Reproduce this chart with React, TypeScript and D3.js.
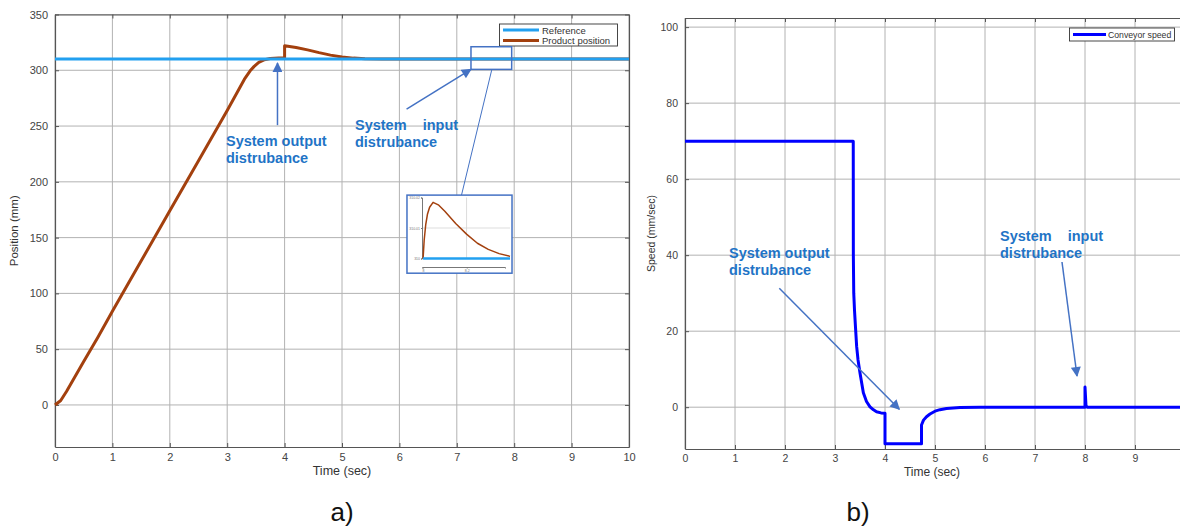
import { useEffect, useRef } from 'react';
import { select, scaleLinear, axisBottom, axisLeft, axisTop, axisRight, line } from 'd3';

// ticks
const timeTicks = [0, 1, 2, 3, 4, 5, 6, 7, 8, 9, 10];
const positionTicks = [0, 50, 100, 150, 200, 250, 300, 350];
const speedTicks = [0, 20, 40, 60, 80, 100];

// a) product position vs reference
const referenceTime = [0, 10];
const referenceValue = [310, 310];
const positionTime = [0, 0.1, 0.2, 0.3, 0.5, 0.75, 1, 1.5, 2, 2.5, 3, 3.3, 3.4, 3.47, 3.55, 3.65, 3.75, 3.9, 4.0, 4.0, 4.2, 4.4, 4.6, 4.8, 5.0, 5.2, 5.4, 5.7, 6, 10];
const positionValue = [0, 4, 12, 21, 39, 61, 84, 129, 174, 219, 264, 292, 299.5, 303.5, 307, 309.5, 310.5, 311, 311, 322, 320.5, 318.3, 315.8, 313.6, 311.9, 310.9, 310.4, 310.1, 310, 310];

// zoomed view of the input disturbance (inset)
const zoomTime = [8.0, 8.005, 8.012, 8.02, 8.03, 8.046, 8.07, 8.1, 8.15, 8.2, 8.25, 8.3, 8.35, 8.4];
const zoomValue = [310, 310.006, 310.011, 310.0145, 310.0168, 310.0184, 310.0176, 310.0155, 310.0115, 310.008, 310.005, 310.003, 310.0016, 310.0007];
const zoomTimeTicks = [8, 8.2];
const zoomValueTicks = [310, 310.01, 310.02];

// b) conveyor speed
const speedTime = [0, 3.365, 3.367, 3.375, 3.39, 3.41, 3.433, 3.46, 3.5, 3.567, 3.63, 3.7, 3.77, 3.83, 3.92, 4.0, 4.0, 4.73, 4.73, 4.77, 4.83, 4.9, 5.0, 5.1, 5.23, 5.5, 5.9, 8.0, 8.0, 8.02, 8.05, 10];
const speedValue = [70, 70, 40, 30, 25.5, 21, 16, 12.5, 9, 3.8, 1.5, 0.1, -0.7, -1.2, -1.5, -1.6, -9.6, -9.6, -4.7, -3.4, -2.5, -1.8, -1.05, -0.65, -0.35, -0.1, 0, 0, 5.3, 0.3, 0, 0];

const FONT = '"Liberation Sans", Arial, Helvetica, sans-serif';
const NOTE_BLUE = '#1f74c6';
const ARROW_BLUE = '#4472c4';

const drawFrame = (svg, x, y, xTicks, yTicks, tickFont) => {
    const [x0, x1] = x.range();
    const [y0, y1] = y.range();

    // grid
    svg.append('g').selectAll('line').data(xTicks).enter().append('line')
        .attr('x1', d => x(d)).attr('x2', d => x(d)).attr('y1', y0).attr('y2', y1)
        .attr('stroke', '#b2b2b2').attr('stroke-width', 1);
    svg.append('g').selectAll('line').data(yTicks).enter().append('line')
        .attr('x1', x0).attr('x2', x1).attr('y1', d => y(d)).attr('y2', d => y(d))
        .attr('stroke', '#b2b2b2').attr('stroke-width', 1);

    const style = (g) => {
        g.attr('color', '#555').attr('font-family', FONT).attr('font-size', tickFont);
        g.selectAll('text').attr('fill', '#444');
        g.select('.domain').attr('stroke-width', 1.2);
    };

    svg.append('g').attr('transform', `translate(0,${y0})`)
        .call(axisBottom(x).tickValues(xTicks).tickSizeInner(-4).tickSizeOuter(0).tickPadding(6).tickFormat(d => `${d}`))
        .call(style);
    svg.append('g').attr('transform', `translate(${x0},0)`)
        .call(axisLeft(y).tickValues(yTicks).tickSizeInner(-4).tickSizeOuter(0).tickPadding(7).tickFormat(d => `${d}`))
        .call(style);
    svg.append('g').attr('transform', `translate(0,${y1})`)
        .call(axisTop(x).tickValues(xTicks).tickSizeInner(-4).tickSizeOuter(0).tickFormat(() => ''))
        .call(style);
    svg.append('g').attr('transform', `translate(${x1},0)`)
        .call(axisRight(y).tickValues(yTicks).tickSizeInner(-4).tickSizeOuter(0).tickFormat(() => ''))
        .call(style);
};

const note = (svg, px, py, lines) => {
    const t = svg.append('text')
        .attr('x', px).attr('y', py)
        .attr('fill', NOTE_BLUE).attr('font-family', FONT)
        .attr('font-size', 14.5).attr('font-weight', 'bold')
        .style('white-space', 'pre');
    lines.forEach((s, i) => {
        t.append('tspan').attr('x', px).attr('dy', i === 0 ? 0 : 17).text(s);
    });
};

const arrow = (svg, xa, ya, xb, yb, width = 1.5) => {
    svg.append('line')
        .attr('x1', xa).attr('y1', ya).attr('x2', xb).attr('y2', yb)
        .attr('stroke', ARROW_BLUE).attr('stroke-width', width)
        .attr('marker-end', 'url(#arrowHead)');
};

const App = () => {
    const svgRef = useRef(null);

    useEffect(() => {
        const svg = select(svgRef.current);
        svg.selectAll('*').remove();

        svg.append('defs').append('marker')
            .attr('id', 'arrowHead')
            .attr('viewBox', '0 0 10 10')
            .attr('refX', 9).attr('refY', 5)
            .attr('markerUnits', 'userSpaceOnUse')
            .attr('markerWidth', 11).attr('markerHeight', 10)
            .attr('orient', 'auto')
            .append('path').attr('d', 'M0,0 L10,5 L0,10 z').attr('fill', ARROW_BLUE);

        // ---------- a) ----------
        const xa = scaleLinear().domain([0, 10]).range([55, 629]);
        const ya = scaleLinear().domain([-37.7, 350]).range([447, 14.5]);
        drawFrame(svg, xa, ya, timeTicks, positionTicks, 11);

        const lineA = line().x(d => xa(d[0])).y(d => ya(d[1]));
        svg.append('path')
            .attr('d', lineA(positionTime.map((t, i) => [t, positionValue[i]])))
            .attr('fill', 'none').attr('stroke', '#a3400e').attr('stroke-width', 3)
            .attr('stroke-linejoin', 'round');
        svg.append('path')
            .attr('d', lineA(referenceTime.map((t, i) => [t, referenceValue[i]])))
            .attr('fill', 'none').attr('stroke', '#22a0f0').attr('stroke-width', 3);

        svg.append('text').attr('x', 342).attr('y', 475).attr('text-anchor', 'middle')
            .attr('font-family', FONT).attr('font-size', 12.5).attr('fill', '#333').text('Time (sec)');
        svg.append('text').attr('transform', `translate(18,${(447 + 14.5) / 2}) rotate(-90)`)
            .attr('text-anchor', 'middle').attr('font-family', FONT).attr('font-size', 11.5)
            .attr('fill', '#333').text('Position (mm)');

        // legend a)
        const legA = svg.append('g');
        legA.append('rect').attr('x', 499.5).attr('y', 24).attr('width', 118).attr('height', 22)
            .attr('fill', 'white').attr('stroke', '#333').attr('stroke-width', 0.9);
        [['Reference', '#22a0f0'], ['Product position', '#a3400e']].forEach(([label, color], i) => {
            legA.append('line').attr('x1', 503).attr('x2', 539).attr('y1', 30 + i * 10.5).attr('y2', 30 + i * 10.5)
                .attr('stroke', color).attr('stroke-width', 3);
            legA.append('text').attr('x', 542).attr('y', 33.5 + i * 10.5)
                .attr('font-family', FONT).attr('font-size', 9.5).attr('fill', '#333').text(label);
        });

        // annotations a)
        note(svg, xa(2.979), ya(232), ['System output', 'distrubance']);
        note(svg, xa(5.226), ya(246.4), ['System    input', 'distrubance']);
        arrow(svg, xa(3.876), ya(250.8), xa(3.876), ya(306.5));
        arrow(svg, xa(6.125), ya(265.2), xa(7.247), ya(300.8));

        // zoom box and link
        svg.append('rect')
            .attr('x', xa(7.247)).attr('y', ya(321.1))
            .attr('width', xa(7.956) - xa(7.247)).attr('height', ya(300.8) - ya(321.1))
            .attr('fill', 'none').attr('stroke', ARROW_BLUE).attr('stroke-width', 1.5);
        svg.append('line')
            .attr('x1', xa(7.608)).attr('y1', ya(300.2)).attr('x2', xa(7.082)).attr('y2', ya(188.1))
            .attr('stroke', ARROW_BLUE).attr('stroke-width', 1);

        // inset
        const inset = svg.append('g');
        inset.append('rect')
            .attr('x', xa(6.132)).attr('y', ya(188.1))
            .attr('width', xa(7.962) - xa(6.132)).attr('height', ya(118.1) - ya(188.1))
            .attr('fill', 'white').attr('stroke', ARROW_BLUE).attr('stroke-width', 1.5);
        const xi = scaleLinear().domain([7.995, 8.4]).range([422, 510]);
        const yi = scaleLinear().domain([310, 310.02]).range([258.5, 197.5]);
        inset.append('line').attr('x1', xi(8.2)).attr('x2', xi(8.2)).attr('y1', yi(310)).attr('y2', yi(310.02))
            .attr('stroke', '#d4d4d4').attr('stroke-width', 0.8);
        inset.append('line').attr('x1', xi(7.995)).attr('x2', xi(8.4)).attr('y1', yi(310.01)).attr('y2', yi(310.01))
            .attr('stroke', '#d4d4d4').attr('stroke-width', 0.8);
        const tinyStyle = (g) => {
            g.attr('color', '#777').attr('font-family', FONT).attr('font-size', 3.5);
            g.select('.domain').attr('stroke-width', 1);
        };
        inset.append('g').attr('transform', `translate(${xi(7.995)},0)`)
            .call(axisLeft(yi).tickValues(zoomValueTicks).tickSize(1).tickPadding(1).tickFormat(d => `${+d.toFixed(2)}`))
            .call(tinyStyle);
        inset.append('g').attr('transform', 'translate(0,267)')
            .call(axisBottom(xi.copy().range([422, 505]).domain([7.995, 8.375])).tickValues(zoomTimeTicks).tickSize(1.5).tickPadding(1).tickFormat(d => `${d}`))
            .call(tinyStyle);
        const lineI = line().x(d => xi(d[0])).y(d => yi(d[1]));
        inset.append('path')
            .attr('d', lineI(zoomTime.map((t, i) => [t, zoomValue[i]])))
            .attr('fill', 'none').attr('stroke', '#a3400e').attr('stroke-width', 1.5)
            .attr('stroke-linejoin', 'round');
        inset.append('path')
            .attr('d', lineI([[8.0, 310], [8.4, 310]]))
            .attr('fill', 'none').attr('stroke', '#22a0f0').attr('stroke-width', 2.5);

        svg.append('text').attr('x', 342).attr('y', 521).attr('text-anchor', 'middle')
            .attr('font-family', FONT).attr('font-size', 26).attr('fill', '#111').text('a)');

        // ---------- b) ----------
        const xb = scaleLinear().domain([0, 10]).range([685, 1185]);
        const yb = scaleLinear().domain([-11, 102.4]).range([449, 18]);
        drawFrame(svg, xb, yb, timeTicks, speedTicks, 10.5);

        const lineB = line().x(d => xb(d[0])).y(d => yb(d[1]));
        svg.append('path')
            .attr('d', lineB(speedTime.map((t, i) => [t, speedValue[i]])))
            .attr('fill', 'none').attr('stroke', '#0000ff').attr('stroke-width', 3)
            .attr('stroke-linejoin', 'round');

        svg.append('text').attr('x', 932).attr('y', 476).attr('text-anchor', 'middle')
            .attr('font-family', FONT).attr('font-size', 12).attr('fill', '#333').text('Time (sec)');
        svg.append('text').attr('transform', `translate(655,${(449 + 18) / 2}) rotate(-90)`)
            .attr('text-anchor', 'middle').attr('font-family', FONT).attr('font-size', 10.5)
            .attr('fill', '#333').text('Speed (mm/sec)');

        const legB = svg.append('g');
        legB.append('rect').attr('x', 1069.5).attr('y', 28).attr('width', 105).attr('height', 13)
            .attr('fill', 'white').attr('stroke', '#333').attr('stroke-width', 0.9);
        legB.append('line').attr('x1', 1073).attr('x2', 1106).attr('y1', 34.5).attr('y2', 34.5)
            .attr('stroke', '#0000ff').attr('stroke-width', 3);
        legB.append('text').attr('x', 1108).attr('y', 37.5)
            .attr('font-family', FONT).attr('font-size', 8.7).attr('fill', '#333').text('Conveyor speed');

        note(svg, xb(0.88), yb(39.3), ['System output', 'distrubance']);
        note(svg, xb(6.3), yb(43.7), ['System    input', 'distrubance']);
        arrow(svg, xb(1.886), yb(31.3), xb(4.286), yb(-0.55));
        arrow(svg, xb(7.54), yb(38.2), xb(7.84), yb(8.2));

        svg.append('text').attr('x', 858).attr('y', 521).attr('text-anchor', 'middle')
            .attr('font-family', FONT).attr('font-size', 26).attr('fill', '#111').text('b)');
    }, []);

    return (
        <svg ref={svgRef} width={1180} height={526}
            style={{ position: 'absolute', left: 0, top: 0, background: 'white' }} />
    );
};

export default App;
